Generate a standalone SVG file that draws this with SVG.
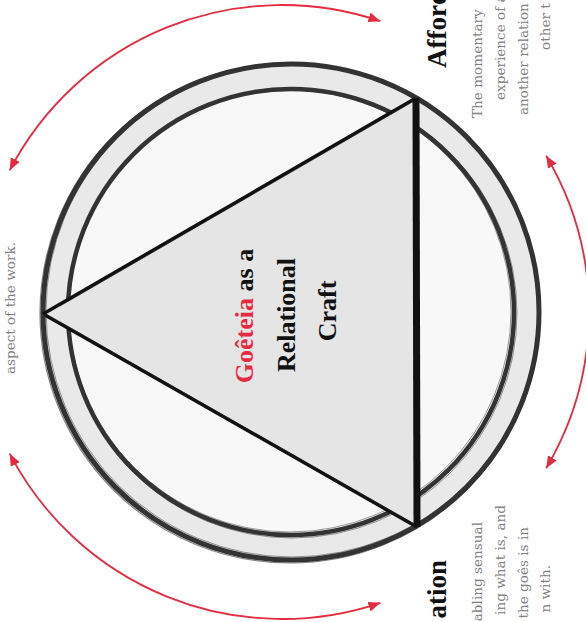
<svg xmlns="http://www.w3.org/2000/svg" width="586" height="622" viewBox="0 0 586 622">
  <defs>
    <style>
      .body { font-family: "DejaVu Serif", "Liberation Serif", serif; font-size: 13.6px; fill: #808080; }
      .title { font-family: "Liberation Serif", "DejaVu Serif", serif; font-weight: bold; font-size: 27px; fill: #111; }
      .center { font-family: "Liberation Serif", "DejaVu Serif", serif; font-weight: bold; font-size: 26px; fill: #111; text-anchor: middle; }
      .red { fill: #e62a40; }
      .arc { fill: none; stroke: #e62a40; stroke-width: 1.8; }
      .sk { fill: none; stroke: #333; }
    </style>
    <marker id="ah" viewBox="0 0 12 10" refX="12" refY="5" markerWidth="12" markerHeight="10" markerUnits="userSpaceOnUse" orient="auto-start-reverse">
      <path d="M0,0 L12,5 L0,10 Z" fill="#e62a40"/>
    </marker>
  </defs>
  <rect width="586" height="622" fill="#fff"/>

  <g id="ring">
    <circle cx="291" cy="312" r="248" fill="#e9e9e9" stroke="#333" stroke-width="5"/>
    <circle class="sk" cx="290" cy="313" r="250" stroke-width="1.2" opacity="0.6"/>
    <circle class="sk" cx="292" cy="311" r="246" stroke-width="1" opacity="0.5"/>
    <circle cx="291" cy="312" r="223" fill="#f8f8f8" stroke="#333" stroke-width="4.5"/>
    <circle class="sk" cx="292" cy="313" r="225" stroke-width="1" opacity="0.5"/>
    <circle class="sk" cx="290" cy="311" r="221" stroke-width="1" opacity="0.5"/>
  </g>

  <g id="triangle">
    <polygon points="43,314 416,98 417,527" fill="#e5e5e5" stroke="none"/>
    <path d="M43,314 L416,98" fill="none" stroke="#111" stroke-width="3.5"/>
    <path d="M45,315 L417,527" fill="none" stroke="#111" stroke-width="3.5"/>
    <path d="M416,98 L417,527" fill="none" stroke="#111" stroke-width="7"/>
    <path d="M60,306 L414,101" fill="none" stroke="#222" stroke-width="1" opacity="0.6"/>
    <path d="M60,322 L414,524" fill="none" stroke="#222" stroke-width="1" opacity="0.6"/>
  </g>

  <g id="center-label">
    <text class="center" transform="translate(253,316) rotate(-90)"><tspan class="red">Goêteia</tspan> as a</text>
    <text class="center" transform="translate(295,315) rotate(-90)">Relational</text>
    <text class="center" transform="translate(336,311) rotate(-90)">Craft</text>
  </g>

  <g id="affordance">
    <text class="title" transform="translate(446,68) rotate(-90)">Affordance</text>
    <text class="body" transform="translate(482,118) rotate(-90)">The momentary</text>
    <text class="body" transform="translate(505,100) rotate(-90)">experience of a</text>
    <text class="body" transform="translate(528,115) rotate(-90)">another relation</text>
    <text class="body" transform="translate(550,50) rotate(-90)">other t</text>
  </g>

  <g id="bottom-node">
    <text class="title" text-anchor="end" transform="translate(446,560) rotate(-90)">ation</text>
    <text class="body" text-anchor="end" transform="translate(482,522) rotate(-90)">abling sensual</text>
    <text class="body" text-anchor="end" transform="translate(505,505) rotate(-90)">ing what is, and</text>
    <text class="body" text-anchor="end" transform="translate(528,527) rotate(-90)">the goês is in</text>
    <text class="body" text-anchor="end" transform="translate(550,565) rotate(-90)">n with.</text>
  </g>

  <g id="left-node">
    <text class="body" text-anchor="middle" transform="translate(15,308) rotate(-90)">aspect of the work.</text>
  </g>

  <g id="connectors">
    <path class="arc" d="M9.7,170.3 A307,307 0 0 1 380.4,21.2" marker-start="url(#ah)" marker-end="url(#ah)"/>
    <path class="arc" d="M546.2,155.7 A307,307 0 0 1 546.2,468.3" marker-start="url(#ah)" marker-end="url(#ah)"/>
    <path class="arc" d="M380.4,602.8 A307,307 0 0 1 9.7,453.7" marker-start="url(#ah)" marker-end="url(#ah)"/>
  </g>
</svg>
